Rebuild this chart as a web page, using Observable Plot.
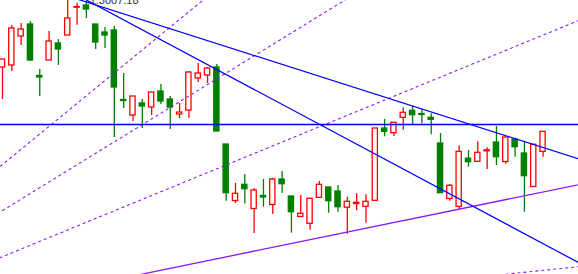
<!DOCTYPE html>
<html>
<head>
<meta charset="utf-8">
<script src="https://cdn.jsdelivr.net/npm/d3@7"></script>
<script src="https://cdn.jsdelivr.net/npm/@observablehq/plot@0.6"></script>
<style>
  html, body { margin: 0; padding: 0; background: #fff; }
  #chart { width: 578px; height: 274px; overflow: hidden; }
</style>
</head>
<body>
<div id="chart"></div>
<script>
// OHLC bars, oldest first (bar index = position in the arrays)
const open = [
  1.2933, 1.2935, 1.2964, 1.2976, 1.29245, 1.2940, 1.2957, 1.2965, 1.29928, 1.2995,
  1.2976, 1.2968, 1.2970, 1.29005, 1.2885, 1.2897, 1.2893, 1.2909, 1.2901, 1.2886,
  1.2890, 1.2922, 1.2925, 1.2933, 1.2856, 1.27995, 1.28157, 1.27915, 1.28045, 1.27955,
  1.2821, 1.2804, 1.27835, 1.27767, 1.28027, 1.2813, 1.2809, 1.27928, 1.27965, 1.27937,
  1.27997, 1.2872, 1.28673, 1.28827, 1.28897, 1.28865, 1.28827, 1.2857, 1.28015, 1.27937,
  1.28418, 1.28387, 1.28492, 1.2858, 1.28385, 1.2861, 1.2847, 1.28135, 1.28487
];
const high = [
  1.2941, 1.2975, 1.2977, 1.2979, 1.2931, 1.2969, 1.2961, 1.3002, 1.29973, 1.2999,
  1.2976, 1.2973, 1.2974, 1.2927, 1.2904, 1.2901, 1.2908, 1.2916, 1.2904, 1.2897,
  1.2929, 1.2937, 1.2933, 1.2936, 1.2856, 1.2817, 1.2826, 1.2812, 1.2821, 1.28223,
  1.2829, 1.2804, 1.2805, 1.2802, 1.2819, 1.2813, 1.2815, 1.28033, 1.28067, 1.28057,
  1.2872, 1.2881, 1.28777, 1.28927, 1.28943, 1.2891, 1.28867, 1.2867, 1.2816, 1.28547,
  1.2850, 1.28588, 1.28527, 1.2874, 1.2863, 1.2861, 1.28582, 1.28558, 1.28687
];
const low = [
  1.2901, 1.2929, 1.2955, 1.2939, 1.2904, 1.2940, 1.2935, 1.2965, 1.29753, 1.2982,
  1.2951, 1.2952, 1.2863, 1.2892, 1.2879, 1.2872, 1.2885, 1.2896, 1.2871, 1.2882,
  1.2882, 1.2918, 1.2917, 1.2869, 1.27993, 1.2797, 1.27965, 1.2767, 1.27933, 1.2786,
  1.2807, 1.27673, 1.27835, 1.27703, 1.28027, 1.27873, 1.27883, 1.27663, 1.27897, 1.27773,
  1.27997, 1.28637, 1.2864, 1.28703, 1.2876, 1.28767, 1.28657, 1.28073, 1.27992, 1.2791,
  1.28333, 1.28387, 1.2831, 1.2835, 1.28363, 1.28433, 1.27883, 1.28135, 1.28433
];
const close = [
  1.2941, 1.2972, 1.2971, 1.2940, 1.2923, 1.2959, 1.2951, 1.2982, 1.29935, 1.2991,
  1.2958, 1.2965, 1.2913, 1.28995, 1.2904, 1.2894, 1.2908, 1.2899, 1.2893, 1.2888,
  1.2928, 1.2927, 1.2932, 1.2869, 1.28073, 1.28067, 1.28113, 1.2810, 1.2803, 1.2821,
  1.28163, 1.27883, 1.27867, 1.28017, 1.28157, 1.27993, 1.27933, 1.27987, 1.27977, 1.27987,
  1.2872, 1.28687, 1.28777, 1.28877, 1.28853, 1.28855, 1.28807, 1.28073, 1.28147, 1.28487,
  1.28383, 1.28477, 1.28502, 1.28433, 1.2863, 1.28533, 1.28243, 1.28558, 1.28687
];

// Horizontal price level
const levelPrice = 1.2876;

// Trend lines: [bar1, price1, bar2, price2], extended across the chart
const trendLines = [
  [9, 1.29985, 60, 1.2847],
  [9, 1.30005, 60, 1.27469]
];

// Gann fan: origin bar/price, 1x1 slope (price per bar) and the fan ratios
const fanOrigin = [-24.12, 1.26517];
const fanSlope = 0.000191;
const fanRatios = [1 / 8, 1 / 4, 1 / 3, 1 / 2, 1, 2, 3, 4, 8];

// Object label at the top of the window
const labelText = "1.3007.18";
const labelAt = [14.6, 1.2997];

// Visible window (bars and prices)
const xDomain = [-0.2146, 61.803];
const yDomain = [1.2726, 1.3000];

const bull = "#ff0000", bear = "#008000", blue = "#0000ff", violet = "#8a1cf5";

const bars = open.map((o, i) => ({
  i, open: o, high: high[i], low: low[i], close: close[i], up: close[i] >= o
}));

const lineAt = ([b1, p1, b2, p2], b) => p1 + (p2 - p1) / (b2 - b1) * (b - b1);
const trendPts = trendLines.flatMap((t, k) =>
  [xDomain[0] - 1, xDomain[1] + 1].map(b => ({k, b, p: lineAt(t, b)})));

const fanPts = fanRatios.flatMap((r, k) =>
  [fanOrigin[0], xDomain[1] + 1].map(b => ({
    k, r, b, p: fanOrigin[1] + r * fanSlope * (b - fanOrigin[0])
  })));

const half = 0.28;

const chart = Plot.plot({
  width: 578,
  height: 274,
  margin: 0,
  style: {background: "#fff", overflow: "hidden"},
  x: {domain: xDomain, axis: null},
  y: {domain: yDomain, axis: null},
  marks: [
    // wicks
    Plot.ruleX(bars, {
      x: "i", y1: "low", y2: "high",
      stroke: d => d.up ? bull : bear, strokeWidth: 1.3
    }),
    // bodies: bullish hollow red, bearish solid green
    Plot.rect(bars, {
      x1: d => d.i - half, x2: d => d.i + half,
      y1: "open", y2: "close",
      fill: d => d.up ? "#fff" : bear,
      stroke: d => d.up ? bull : bear, strokeWidth: 1.3
    }),
    // Gann fan: dotted rays, solid 1x1 ray
    Plot.line(fanPts.filter(d => d.r !== 1), {
      x: "b", y: "p", z: "k", stroke: violet, strokeWidth: 1.1,
      strokeDasharray: "2.2,3.8", clip: true
    }),
    Plot.line(fanPts.filter(d => d.r === 1), {
      x: "b", y: "p", z: "k", stroke: violet, strokeWidth: 1.3, clip: true
    }),
    // trend lines
    Plot.line(trendPts, {x: "b", y: "p", z: "k", stroke: blue, strokeWidth: 1.2, clip: true}),
    // horizontal level
    Plot.ruleY([levelPrice], {stroke: blue, strokeWidth: 1.3}),
    // object label
    Plot.text([labelAt], {
      x: d => d[0], y: d => d[1], text: () => labelText,
      textAnchor: "end", lineAnchor: "bottom", fontSize: 11,
      fontFamily: "Liberation Sans, Arial, sans-serif", fill: "#333"
    })
  ]
});

document.getElementById("chart").appendChild(chart);
</script>
</body>
</html>
